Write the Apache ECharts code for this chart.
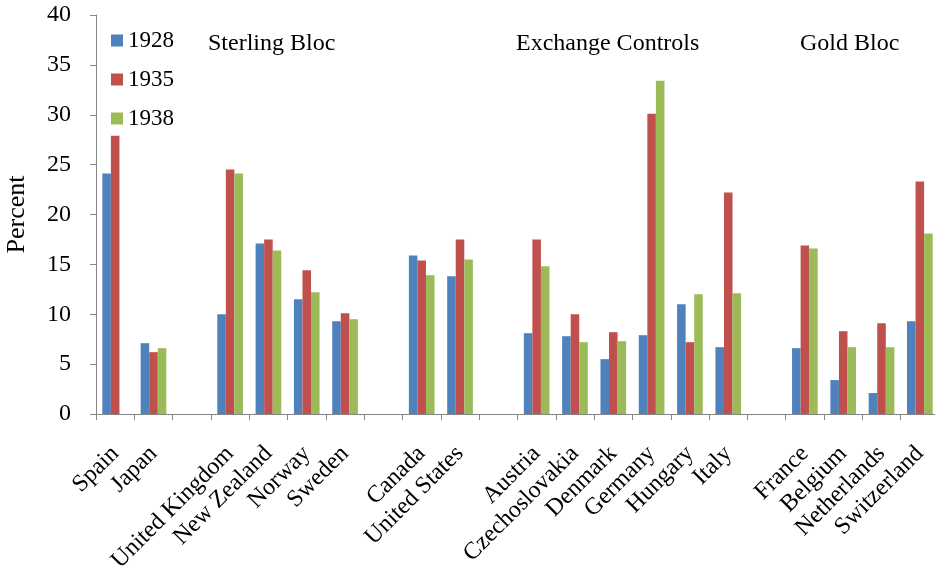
<!DOCTYPE html>
<html>
<head>
<meta charset="utf-8">
<script src="https://cdn.jsdelivr.net/npm/echarts@6/dist/echarts.min.js"></script>
<style>
html,body{margin:0;padding:0;background:#fff;}
#chart{width:935px;height:567px;}
</style>
</head>
<body>
<div id="chart"></div>
<script>
// Categories ('' marks an empty spacer slot between groups)
const categories = ['Spain','Japan','','United Kingdom','New Zealand','Norway','Sweden','','Canada','United States','','Austria','Czechoslovakia','Denmark','Germany','Hungary','Italy','','France','Belgium','Netherlands','Switzerland'];
const seriesNames = ['1928','1935','1938'];
const values1928 = [24.1, 7.1, null, 10.0, 17.1, 11.5, 9.3, null, 15.9, 13.8, null, 8.1, 7.8, 5.5, 7.9, 11.0, 6.7, null, 6.6, 3.4, 2.1, 9.3];
const values1935 = [27.9, 6.2, null, 24.5, 17.5, 14.4, 10.1, null, 15.4, 17.5, null, 17.5, 10.0, 8.2, 30.1, 7.2, 22.2, null, 16.9, 8.3, 9.1, 23.3];
const values1938 = [null, 6.6, null, 24.1, 16.4, 12.2, 9.5, null, 13.9, 15.5, null, 14.8, 7.2, 7.3, 33.4, 12.0, 12.1, null, 16.6, 6.7, 6.7, 18.1];
const groupLabels = ['Sterling Bloc','Exchange Controls','Gold Bloc'];
const yTicks = [0,5,10,15,20,25,30,35,40];
const colors = ['#4F81BD','#C0504D','#9BBB59'];

const FONT = '"Liberation Serif","Times New Roman",serif';
const chart = echarts.init(document.getElementById('chart'), null, {renderer:'canvas'});
const allValues = [values1928, values1935, values1938];

chart.setOption({
  animation:false,
  backgroundColor:'#fff',
  textStyle:{fontFamily:FONT, color:'#000'},
  grid:{left:96, top:15, bottom:153, right:-4, containLabel:false, outerBoundsMode:'none'},
  legend:{
    orient:'vertical', left:106, top:24, itemWidth:12, itemHeight:12, itemGap:16,
    icon:'rect', data:seriesNames,
    textStyle:{fontFamily:FONT, fontSize:23, color:'#000'}
  },
  graphic:[
    {type:'text', left:208, top:32, style:{text:groupLabels[0], font:'24px '+FONT, fill:'#000'}},
    {type:'text', left:516, top:32, style:{text:groupLabels[1], font:'24px '+FONT, fill:'#000'}},
    {type:'text', left:800, top:32, style:{text:groupLabels[2], font:'24px '+FONT, fill:'#000'}}
  ],
  xAxis:{
    type:'category', data:categories,
    axisLine:{lineStyle:{color:'#868686', width:1}},
    axisTick:{show:true, length:6, lineStyle:{color:'#868686'}},
    axisLabel:{interval:0, rotate:45, margin:36, fontFamily:FONT, fontSize:24, color:'#000', verticalAlign:'middle'}
  },
  yAxis:{
    type:'value', min:yTicks[0], max:yTicks[yTicks.length-1], interval:5,
    name:'Percent', nameLocation:'middle', nameGap:66,
    nameTextStyle:{fontFamily:FONT, fontSize:26, color:'#000'},
    axisLine:{show:true, lineStyle:{color:'#868686', width:1}},
    axisTick:{show:true, length:6, lineStyle:{color:'#868686'}},
    splitLine:{show:false},
    axisLabel:{margin:25, fontFamily:FONT, fontSize:24, color:'#000'}
  },
  series: seriesNames.map((n,i)=>({
    name:n, type:'bar', data:allValues[i],
    barGap:'0%', barCategoryGap:'33%',
    itemStyle:{color:colors[i]}
  }))
});
</script>
</body>
</html>
